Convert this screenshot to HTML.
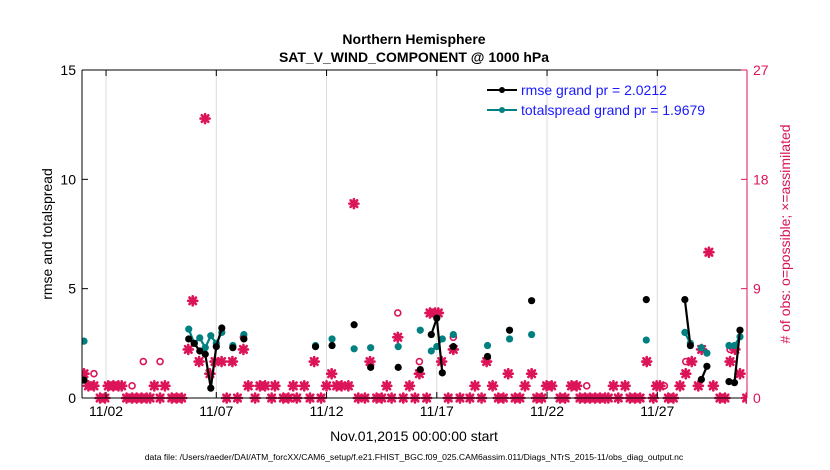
<!DOCTYPE html>
<html><head><meta charset="utf-8"><style>
body{margin:0;background:#fff;}
svg{display:block;font-family:"Liberation Sans",sans-serif;}
</style></head><body>
<svg id="chart" width="830" height="470" viewBox="0 0 830 470" xmlns="http://www.w3.org/2000/svg">
<text x="414" y="44" text-anchor="middle" font-size="14" font-weight="bold">Northern Hemisphere</text>
<text x="414" y="62" text-anchor="middle" font-size="14" font-weight="bold">SAT_V_WIND_COMPONENT @ 1000 hPa</text>
<g id="grid"></g>
<g id="marks"></g>
<g id="axes"></g>
<text transform="translate(52,234) rotate(-90)" text-anchor="middle" font-size="14">rmse and totalspread</text>
<text transform="translate(790,234) rotate(-90)" text-anchor="middle" font-size="14" fill="#d6145a"># of obs: o=possible; ×=assimilated</text>
<text x="414" y="441" text-anchor="middle" font-size="14">Nov.01,2015 00:00:00 start</text>
<text x="414" y="460" text-anchor="middle" font-size="8.6">data file: /Users/raeder/DAI/ATM_forcXX/CAM6_setup/f.e21.FHIST_BGC.f09_025.CAM6assim.011/Diags_NTrS_2015-11/obs_diag_output.nc</text>
<g>
<line x1="487" y1="90" x2="517" y2="90" stroke="#000" stroke-width="2"/><circle cx="502" cy="90" r="3" fill="#000"/>
<text x="521" y="95" font-size="14" fill="#1a1aff">rmse grand pr = 2.0212</text>
<line x1="487" y1="110" x2="517" y2="110" stroke="#008080" stroke-width="2"/><circle cx="502" cy="110" r="3" fill="#008080"/>
<text x="521" y="115" font-size="14" fill="#1a1aff">totalspread grand pr = 1.9679</text>
</g>
</svg>
<script>
const evalTimes=[0,4.75,5.0,5.25,5.5,5.75,6.0,6.25,6.75,7.25,10.5,11.25,12.25,13.0,14.25,15.25,15.75,16.0,16.25,16.75,18.3,19.3,20.3,25.5,27.25,27.5,28.0,28.25,29.25,29.5,29.75];
const rmseVals=[0.82,2.7,2.5,2.15,2.0,0.45,2.35,3.2,2.3,2.7,2.35,2.4,3.35,1.4,1.4,1.3,2.9,3.65,1.15,2.35,1.9,3.1,4.45,4.5,4.5,2.4,0.85,1.45,0.75,0.7,3.1];
const spreadVals=[2.6,3.15,2.5,2.75,2.3,2.85,2.5,3.0,2.4,2.9,2.4,2.7,2.25,2.3,2.35,3.1,2.15,2.35,2.7,2.9,2.4,2.7,2.9,2.65,3.0,2.5,2.3,2.05,2.4,2.4,2.8];
const obsTimes=[0,0.2,0.45,0.73,0.95,1.1,1.33,1.56,1.71,1.93,2.18,2.39,2.61,2.69,2.84,3.0,3.19,3.45,3.67,3.98,4.2,4.43,4.73,4.93,5.22,5.49,5.71,5.94,6.24,6.47,6.73,6.96,7.23,7.45,7.76,7.98,8.21,8.51,8.66,9.04,9.27,9.49,9.65,9.99,10.25,10.44,10.75,11.0,11.23,11.46,11.68,11.99,12.24,12.44,12.74,12.97,13.27,13.5,13.73,13.95,14.23,14.48,14.76,15.01,15.21,15.54,15.69,15.92,16.07,16.22,16.52,16.75,17.05,17.5,17.73,18.03,18.26,18.53,18.79,19.02,19.24,19.55,19.77,20.0,20.3,20.53,20.76,20.98,21.21,21.59,21.82,22.11,22.34,22.49,22.72,22.8,22.95,23.18,23.4,23.63,23.78,24.01,24.23,24.54,24.76,24.99,25.22,25.52,25.82,25.97,26.12,26.32,26.5,26.73,27.03,27.29,27.56,27.86,28.01,28.34,28.54,28.84,29.07,29.3,29.52,29.75,30.05];
const obsPossible=[2,1,2,0,0,1,1,1,1,0,1,0,0,3,0,0,1,3,1,0,0,0,4,8,3,23,2,3,3,0,3,0,5,1,0,1,1,0,1,0,0,1,0,1,0,3,0,1,2,1,1,1,16,0,0,3,0,0,1,0,7,0,1,0,3,0,7,7,7,3,0,5,0,0,1,0,3,1,0,0,2,0,0,1,2,0,0,1,1,0,0,1,1,0,0,1,0,0,0,0,0,1,0,1,0,0,0,3,0,1,1,1,0,0,1,3,3,1,4,12,1,0,0,4,4,2,0];
const obsAssim=[2,1,1,0,0,1,1,1,1,0,0,0,0,null,0,0,1,0,1,0,0,0,4,8,3,23,2,3,3,0,3,0,4,1,0,1,1,0,1,0,0,1,0,1,0,3,0,1,2,1,1,1,16,0,0,3,0,0,1,0,5,0,1,0,2,0,7,7,7,3,0,4,0,0,1,0,3,1,0,0,2,0,0,1,2,0,0,1,1,0,0,1,1,0,0,null,0,0,0,0,0,1,0,1,0,0,0,3,0,1,1,null,0,0,1,2,3,1,4,12,1,0,0,3,4,2,0];
const xTickDays=[1,6,11,16,21,26];
const xTickLabels=['11/02','11/07','11/12','11/17','11/22','11/27'];
const yTicks=[0,5,10,15];
const y2Ticks=[0,9,18,27];

const L=82,R=747,T=70,B=398;
const X=t=>84+22.05*t;
const Y=v=>B-(B-T)*v/15;
const Y2=v=>B-(B-T)*v/27;
const NS='http://www.w3.org/2000/svg';
function mk(tag,attrs,parent){const e=document.createElementNS(NS,tag);for(const k in attrs)e.setAttribute(k,attrs[k]);parent.appendChild(e);return e;}
const grid=document.getElementById('grid'),marks=document.getElementById('marks'),axes=document.getElementById('axes');
const PINK='#dc1459',TEAL='#008080';
xTickDays.forEach((d,i)=>{
 const g=mk('line',{x1:X(d),x2:X(d),y1:T,y2:B,stroke:'#dcdcdc','stroke-width':1},grid);
 
 
 mk('line',{x1:X(d),x2:X(d),y1:B,y2:B-6,stroke:'#000'},axes);
 mk('line',{x1:X(d),x2:X(d),y1:T,y2:T+6,stroke:'#000'},axes);
 const tx=mk('text',{x:X(d),y:B+18,'text-anchor':'middle','font-size':14},axes);
 tx.textContent=xTickLabels[i];
 
 
});
const clip=mk('clipPath',{id:'pc'},marks);mk('rect',{x:L,y:T-15,width:R-L,height:B-T+30},clip);
const mg=mk('g',{'clip-path':'url(#pc)'},marks);
function star(x,y){
 const g=mk('g',{stroke:PINK,'stroke-width':2.6,'stroke-linecap':'round'},mg);
 mk('line',{x1:x-4.5,y1:y,x2:x+4.5,y2:y},g);mk('line',{x1:x,y1:y-4.5,x2:x,y2:y+4.5},g);
 mk('line',{x1:x-3.3,y1:y-3.3,x2:x+3.3,y2:y+3.3},g);mk('line',{x1:x-3.3,y1:y+3.3,x2:x+3.3,y2:y-3.3},g);
 return g;
}
obsTimes.forEach((t,i)=>{
 if(obsPossible[i]!=null && obsPossible[i]!==obsAssim[i]){
  const c=mk('circle',{cx:X(t),cy:Y2(obsPossible[i]),r:3,fill:'none',stroke:PINK,'stroke-width':1.6},mg);
  
  
 }
 if(obsAssim[i]!=null){
  const s=star(X(t),Y2(obsAssim[i]));
  
  
 }
});
function series(vals,color,name){
 let seg=[];const segs=[];
 evalTimes.forEach((t,i)=>{
  if(i>0 && t-evalTimes[i-1]>0.3){segs.push(seg);seg=[];}
  seg.push([X(t),Y(vals[i])]);
 });segs.push(seg);
 segs.forEach(s=>{if(s.length>1){const p=mk('polyline',{points:s.map(q=>q.join(',')).join(' '),fill:'none',stroke:color,'stroke-width':2.2},mg);
  
  }});
 evalTimes.forEach((t,i)=>{const c=mk('circle',{cx:X(t),cy:Y(vals[i]),r:3.6,fill:color},mg);
  
  });
}
series(spreadVals,TEAL,'totalspread');
series(rmseVals,'#000','rmse');
mk('line',{x1:L,x2:R,y1:B,y2:B,stroke:'#000'},axes);
mk('line',{x1:L,x2:R,y1:T,y2:T,stroke:'#000'},axes);
mk('line',{x1:L,x2:L,y1:T,y2:B,stroke:'#000'},axes);
mk('line',{x1:R,x2:R,y1:T,y2:B,stroke:PINK},axes);
yTicks.forEach(v=>{
 mk('line',{x1:L,x2:L+6,y1:Y(v),y2:Y(v),stroke:'#000'},axes);
 const tx=mk('text',{x:L-6,y:Y(v)+5,'text-anchor':'end','font-size':14},axes);tx.textContent=v;
 
 
});
y2Ticks.forEach(v=>{
 mk('line',{x1:R,x2:R-6,y1:Y2(v),y2:Y2(v),stroke:PINK},axes);
 const tx=mk('text',{x:R+6,y:Y2(v)+5,'font-size':14,fill:PINK},axes);tx.textContent=v;
 
 
});
</script>
</body></html>
